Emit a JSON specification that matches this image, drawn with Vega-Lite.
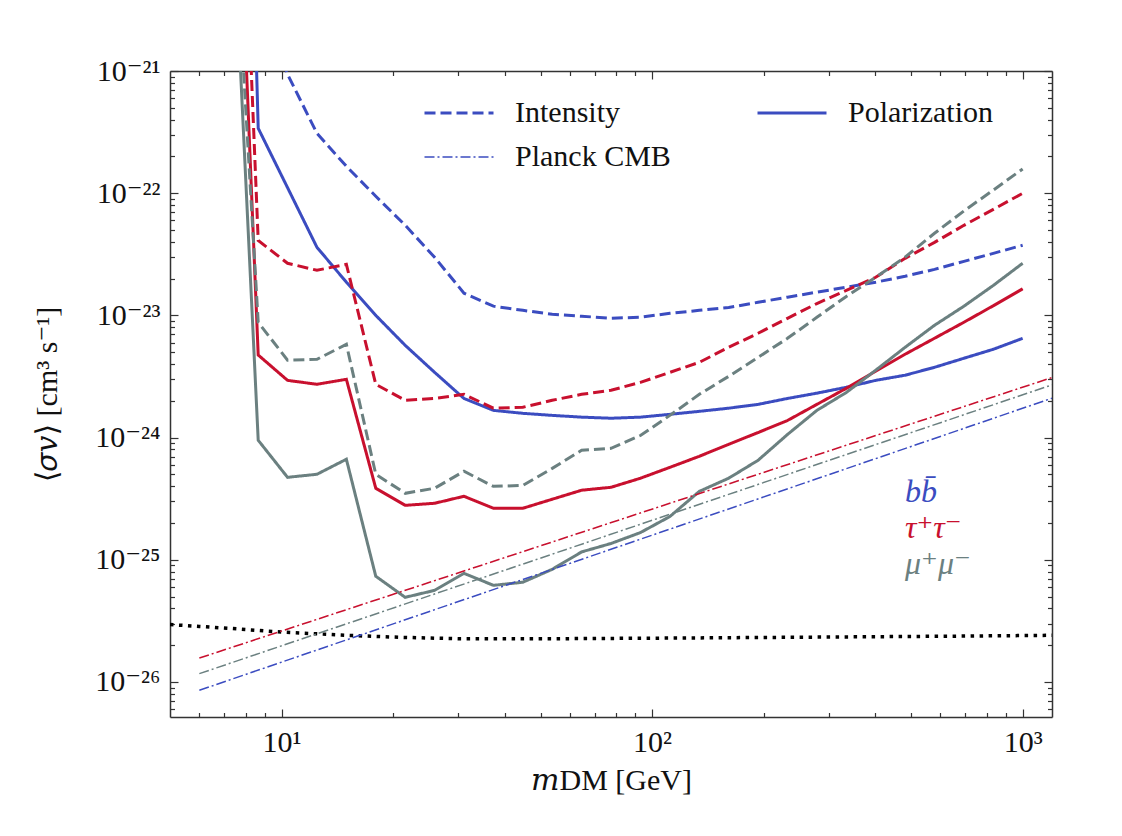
{
  "$schema": "https://vega.github.io/schema/vega-lite/v6.json",
  "width": 882,
  "height": 646,
  "autosize": "none",
  "padding": {"left": 170, "top": 71, "right": 70, "bottom": 119},
  "background": "white",
  "config": {
    "view": {"stroke": null},
    "axis": {
      "domainColor": "#333", "domainWidth": 1.5, "tickColor": "#333", "tickWidth": 1.2,
      "grid": false, "labelFont": "Liberation Serif, DejaVu Serif, serif", "labelFontSize": 30, "labelColor": "#111",
      "titleFont": "Liberation Serif, DejaVu Serif, serif", "titleFontSize": 30, "titleFontWeight": "normal", "titleColor": "#111",
      "labelOverlap": false, "labelFlush": false, "labelBound": false
    },
    "legend": {"padding": 0, "labelFont": "Liberation Serif, DejaVu Serif, serif", "labelColor": "#111", "labelLimit": 400}
  },
  "datasets": {
    "curves": [
      {"m": 8.65, "v": 5e-21, "c": "bb̄", "s": "Intensity"},
      {"m": 10.38, "v": 9.4e-22, "c": "bb̄", "s": "Intensity"},
      {"m": 12.46, "v": 3.09e-22, "c": "bb̄", "s": "Intensity"},
      {"m": 14.96, "v": 1.66e-22, "c": "bb̄", "s": "Intensity"},
      {"m": 17.96, "v": 9.44e-23, "c": "bb̄", "s": "Intensity"},
      {"m": 21.56, "v": 5.47e-23, "c": "bb̄", "s": "Intensity"},
      {"m": 25.88, "v": 2.99e-23, "c": "bb̄", "s": "Intensity"},
      {"m": 31.07, "v": 1.52e-23, "c": "bb̄", "s": "Intensity"},
      {"m": 37.30, "v": 1.19e-23, "c": "bb̄", "s": "Intensity"},
      {"m": 44.78, "v": 1.10e-23, "c": "bb̄", "s": "Intensity"},
      {"m": 53.76, "v": 1.02e-23, "c": "bb̄", "s": "Intensity"},
      {"m": 64.54, "v": 9.84e-24, "c": "bb̄", "s": "Intensity"},
      {"m": 77.48, "v": 9.48e-24, "c": "bb̄", "s": "Intensity"},
      {"m": 93.01, "v": 9.66e-24, "c": "bb̄", "s": "Intensity"},
      {"m": 111.7, "v": 1.04e-23, "c": "bb̄", "s": "Intensity"},
      {"m": 134.1, "v": 1.10e-23, "c": "bb̄", "s": "Intensity"},
      {"m": 160.9, "v": 1.16e-23, "c": "bb̄", "s": "Intensity"},
      {"m": 193.2, "v": 1.28e-23, "c": "bb̄", "s": "Intensity"},
      {"m": 231.9, "v": 1.41e-23, "c": "bb̄", "s": "Intensity"},
      {"m": 278.4, "v": 1.55e-23, "c": "bb̄", "s": "Intensity"},
      {"m": 334.3, "v": 1.70e-23, "c": "bb̄", "s": "Intensity"},
      {"m": 401.3, "v": 1.87e-23, "c": "bb̄", "s": "Intensity"},
      {"m": 481.7, "v": 2.09e-23, "c": "bb̄", "s": "Intensity"},
      {"m": 578.3, "v": 2.38e-23, "c": "bb̄", "s": "Intensity"},
      {"m": 694.3, "v": 2.77e-23, "c": "bb̄", "s": "Intensity"},
      {"m": 833.5, "v": 3.22e-23, "c": "bb̄", "s": "Intensity"},
      {"m": 1000, "v": 3.75e-23, "c": "bb̄", "s": "Intensity"},

      {"m": 7.2, "v": 1.5e-13, "c": "bb̄", "s": "Polarization"},
      {"m": 8.65, "v": 3.40e-22, "c": "bb̄", "s": "Polarization"},
      {"m": 10.38, "v": 1.11e-22, "c": "bb̄", "s": "Polarization"},
      {"m": 12.46, "v": 3.61e-23, "c": "bb̄", "s": "Polarization"},
      {"m": 14.96, "v": 1.87e-23, "c": "bb̄", "s": "Polarization"},
      {"m": 17.96, "v": 1.0e-23, "c": "bb̄", "s": "Polarization"},
      {"m": 21.56, "v": 5.69e-24, "c": "bb̄", "s": "Polarization"},
      {"m": 25.88, "v": 3.42e-24, "c": "bb̄", "s": "Polarization"},
      {"m": 31.07, "v": 2.09e-24, "c": "bb̄", "s": "Polarization"},
      {"m": 37.30, "v": 1.67e-24, "c": "bb̄", "s": "Polarization"},
      {"m": 44.78, "v": 1.58e-24, "c": "bb̄", "s": "Polarization"},
      {"m": 53.76, "v": 1.52e-24, "c": "bb̄", "s": "Polarization"},
      {"m": 64.54, "v": 1.47e-24, "c": "bb̄", "s": "Polarization"},
      {"m": 77.48, "v": 1.44e-24, "c": "bb̄", "s": "Polarization"},
      {"m": 93.01, "v": 1.47e-24, "c": "bb̄", "s": "Polarization"},
      {"m": 111.7, "v": 1.55e-24, "c": "bb̄", "s": "Polarization"},
      {"m": 134.1, "v": 1.64e-24, "c": "bb̄", "s": "Polarization"},
      {"m": 160.9, "v": 1.74e-24, "c": "bb̄", "s": "Polarization"},
      {"m": 193.2, "v": 1.87e-24, "c": "bb̄", "s": "Polarization"},
      {"m": 231.9, "v": 2.09e-24, "c": "bb̄", "s": "Polarization"},
      {"m": 278.4, "v": 2.31e-24, "c": "bb̄", "s": "Polarization"},
      {"m": 334.3, "v": 2.58e-24, "c": "bb̄", "s": "Polarization"},
      {"m": 401.3, "v": 2.94e-24, "c": "bb̄", "s": "Polarization"},
      {"m": 481.7, "v": 3.24e-24, "c": "bb̄", "s": "Polarization"},
      {"m": 578.3, "v": 3.76e-24, "c": "bb̄", "s": "Polarization"},
      {"m": 694.3, "v": 4.46e-24, "c": "bb̄", "s": "Polarization"},
      {"m": 833.5, "v": 5.28e-24, "c": "bb̄", "s": "Polarization"},
      {"m": 1000, "v": 6.49e-24, "c": "bb̄", "s": "Polarization"},

      {"m": 7.2, "v": 3.2e-17, "c": "τ⁺τ⁻", "s": "Intensity"},
      {"m": 8.65, "v": 4.10e-23, "c": "τ⁺τ⁻", "s": "Intensity"},
      {"m": 10.38, "v": 2.67e-23, "c": "τ⁺τ⁻", "s": "Intensity"},
      {"m": 12.46, "v": 2.34e-23, "c": "τ⁺τ⁻", "s": "Intensity"},
      {"m": 14.96, "v": 2.62e-23, "c": "τ⁺τ⁻", "s": "Intensity"},
      {"m": 17.96, "v": 2.73e-24, "c": "τ⁺τ⁻", "s": "Intensity"},
      {"m": 21.56, "v": 2.02e-24, "c": "τ⁺τ⁻", "s": "Intensity"},
      {"m": 25.88, "v": 2.09e-24, "c": "τ⁺τ⁻", "s": "Intensity"},
      {"m": 31.07, "v": 2.26e-24, "c": "τ⁺τ⁻", "s": "Intensity"},
      {"m": 37.30, "v": 1.74e-24, "c": "τ⁺τ⁻", "s": "Intensity"},
      {"m": 44.78, "v": 1.77e-24, "c": "τ⁺τ⁻", "s": "Intensity"},
      {"m": 53.76, "v": 2.02e-24, "c": "τ⁺τ⁻", "s": "Intensity"},
      {"m": 64.54, "v": 2.26e-24, "c": "τ⁺τ⁻", "s": "Intensity"},
      {"m": 77.48, "v": 2.44e-24, "c": "τ⁺τ⁻", "s": "Intensity"},
      {"m": 93.01, "v": 2.83e-24, "c": "τ⁺τ⁻", "s": "Intensity"},
      {"m": 111.7, "v": 3.42e-24, "c": "τ⁺τ⁻", "s": "Intensity"},
      {"m": 134.1, "v": 4.13e-24, "c": "τ⁺τ⁻", "s": "Intensity"},
      {"m": 160.9, "v": 5.48e-24, "c": "τ⁺τ⁻", "s": "Intensity"},
      {"m": 193.2, "v": 7.14e-24, "c": "τ⁺τ⁻", "s": "Intensity"},
      {"m": 231.9, "v": 9.46e-24, "c": "τ⁺τ⁻", "s": "Intensity"},
      {"m": 278.4, "v": 1.25e-23, "c": "τ⁺τ⁻", "s": "Intensity"},
      {"m": 334.3, "v": 1.60e-23, "c": "τ⁺τ⁻", "s": "Intensity"},
      {"m": 401.3, "v": 2.05e-23, "c": "τ⁺τ⁻", "s": "Intensity"},
      {"m": 481.7, "v": 2.93e-23, "c": "τ⁺τ⁻", "s": "Intensity"},
      {"m": 578.3, "v": 3.96e-23, "c": "τ⁺τ⁻", "s": "Intensity"},
      {"m": 694.3, "v": 5.46e-23, "c": "τ⁺τ⁻", "s": "Intensity"},
      {"m": 833.5, "v": 7.38e-23, "c": "τ⁺τ⁻", "s": "Intensity"},
      {"m": 1000, "v": 9.98e-23, "c": "τ⁺τ⁻", "s": "Intensity"},

      {"m": 7.2, "v": 3.6e-18, "c": "τ⁺τ⁻", "s": "Polarization"},
      {"m": 8.65, "v": 4.74e-24, "c": "τ⁺τ⁻", "s": "Polarization"},
      {"m": 10.38, "v": 2.94e-24, "c": "τ⁺τ⁻", "s": "Polarization"},
      {"m": 12.46, "v": 2.73e-24, "c": "τ⁺τ⁻", "s": "Polarization"},
      {"m": 14.96, "v": 3.00e-24, "c": "τ⁺τ⁻", "s": "Polarization"},
      {"m": 17.96, "v": 3.85e-25, "c": "τ⁺τ⁻", "s": "Polarization"},
      {"m": 21.56, "v": 2.79e-25, "c": "τ⁺τ⁻", "s": "Polarization"},
      {"m": 25.88, "v": 2.90e-25, "c": "τ⁺τ⁻", "s": "Polarization"},
      {"m": 31.07, "v": 3.31e-25, "c": "τ⁺τ⁻", "s": "Polarization"},
      {"m": 37.30, "v": 2.64e-25, "c": "τ⁺τ⁻", "s": "Polarization"},
      {"m": 44.78, "v": 2.64e-25, "c": "τ⁺τ⁻", "s": "Polarization"},
      {"m": 53.76, "v": 3.13e-25, "c": "τ⁺τ⁻", "s": "Polarization"},
      {"m": 64.54, "v": 3.71e-25, "c": "τ⁺τ⁻", "s": "Polarization"},
      {"m": 77.48, "v": 3.92e-25, "c": "τ⁺τ⁻", "s": "Polarization"},
      {"m": 93.01, "v": 4.65e-25, "c": "τ⁺τ⁻", "s": "Polarization"},
      {"m": 111.7, "v": 5.71e-25, "c": "τ⁺τ⁻", "s": "Polarization"},
      {"m": 134.1, "v": 7.03e-25, "c": "τ⁺τ⁻", "s": "Polarization"},
      {"m": 160.9, "v": 8.81e-25, "c": "τ⁺τ⁻", "s": "Polarization"},
      {"m": 193.2, "v": 1.10e-24, "c": "τ⁺τ⁻", "s": "Polarization"},
      {"m": 231.9, "v": 1.38e-24, "c": "τ⁺τ⁻", "s": "Polarization"},
      {"m": 278.4, "v": 1.87e-24, "c": "τ⁺τ⁻", "s": "Polarization"},
      {"m": 334.3, "v": 2.53e-24, "c": "τ⁺τ⁻", "s": "Polarization"},
      {"m": 401.3, "v": 3.49e-24, "c": "τ⁺τ⁻", "s": "Polarization"},
      {"m": 481.7, "v": 4.81e-24, "c": "τ⁺τ⁻", "s": "Polarization"},
      {"m": 578.3, "v": 6.50e-24, "c": "τ⁺τ⁻", "s": "Polarization"},
      {"m": 694.3, "v": 8.79e-24, "c": "τ⁺τ⁻", "s": "Polarization"},
      {"m": 833.5, "v": 1.20e-23, "c": "τ⁺τ⁻", "s": "Polarization"},
      {"m": 1000, "v": 1.65e-23, "c": "τ⁺τ⁻", "s": "Polarization"},

      {"m": 7.2, "v": 1.2e-19, "c": "μ⁺μ⁻", "s": "Intensity"},
      {"m": 8.65, "v": 8.77e-24, "c": "μ⁺μ⁻", "s": "Intensity"},
      {"m": 10.38, "v": 4.30e-24, "c": "μ⁺μ⁻", "s": "Intensity"},
      {"m": 12.46, "v": 4.37e-24, "c": "μ⁺μ⁻", "s": "Intensity"},
      {"m": 14.96, "v": 5.80e-24, "c": "μ⁺μ⁻", "s": "Intensity"},
      {"m": 17.96, "v": 5.01e-25, "c": "μ⁺μ⁻", "s": "Intensity"},
      {"m": 21.56, "v": 3.50e-25, "c": "μ⁺μ⁻", "s": "Intensity"},
      {"m": 25.88, "v": 3.85e-25, "c": "μ⁺μ⁻", "s": "Intensity"},
      {"m": 31.07, "v": 5.30e-25, "c": "μ⁺μ⁻", "s": "Intensity"},
      {"m": 37.30, "v": 3.99e-25, "c": "μ⁺μ⁻", "s": "Intensity"},
      {"m": 44.78, "v": 4.06e-25, "c": "μ⁺μ⁻", "s": "Intensity"},
      {"m": 53.76, "v": 5.60e-25, "c": "μ⁺μ⁻", "s": "Intensity"},
      {"m": 64.54, "v": 7.87e-25, "c": "μ⁺μ⁻", "s": "Intensity"},
      {"m": 77.48, "v": 8.17e-25, "c": "μ⁺μ⁻", "s": "Intensity"},
      {"m": 93.01, "v": 1.04e-24, "c": "μ⁺μ⁻", "s": "Intensity"},
      {"m": 111.7, "v": 1.52e-24, "c": "μ⁺μ⁻", "s": "Intensity"},
      {"m": 134.1, "v": 2.26e-24, "c": "μ⁺μ⁻", "s": "Intensity"},
      {"m": 160.9, "v": 3.17e-24, "c": "μ⁺μ⁻", "s": "Intensity"},
      {"m": 193.2, "v": 4.53e-24, "c": "μ⁺μ⁻", "s": "Intensity"},
      {"m": 231.9, "v": 6.49e-24, "c": "μ⁺μ⁻", "s": "Intensity"},
      {"m": 278.4, "v": 9.64e-24, "c": "μ⁺μ⁻", "s": "Intensity"},
      {"m": 334.3, "v": 1.43e-23, "c": "μ⁺μ⁻", "s": "Intensity"},
      {"m": 401.3, "v": 2.05e-23, "c": "μ⁺μ⁻", "s": "Intensity"},
      {"m": 481.7, "v": 3.0e-23, "c": "μ⁺μ⁻", "s": "Intensity"},
      {"m": 578.3, "v": 4.70e-23, "c": "μ⁺μ⁻", "s": "Intensity"},
      {"m": 694.3, "v": 7.16e-23, "c": "μ⁺μ⁻", "s": "Intensity"},
      {"m": 833.5, "v": 1.06e-22, "c": "μ⁺μ⁻", "s": "Intensity"},
      {"m": 1000, "v": 1.58e-22, "c": "μ⁺μ⁻", "s": "Intensity"},

      {"m": 7.2, "v": 1.07e-19, "c": "μ⁺μ⁻", "s": "Polarization"},
      {"m": 8.65, "v": 9.51e-25, "c": "μ⁺μ⁻", "s": "Polarization"},
      {"m": 10.38, "v": 4.73e-25, "c": "μ⁺μ⁻", "s": "Polarization"},
      {"m": 12.46, "v": 5.01e-25, "c": "μ⁺μ⁻", "s": "Polarization"},
      {"m": 14.96, "v": 6.65e-25, "c": "μ⁺μ⁻", "s": "Polarization"},
      {"m": 17.96, "v": 7.33e-26, "c": "μ⁺μ⁻", "s": "Polarization"},
      {"m": 21.56, "v": 4.93e-26, "c": "μ⁺μ⁻", "s": "Polarization"},
      {"m": 25.88, "v": 5.62e-26, "c": "μ⁺μ⁻", "s": "Polarization"},
      {"m": 31.07, "v": 7.74e-26, "c": "μ⁺μ⁻", "s": "Polarization"},
      {"m": 37.30, "v": 6.18e-26, "c": "μ⁺μ⁻", "s": "Polarization"},
      {"m": 44.78, "v": 6.55e-26, "c": "μ⁺μ⁻", "s": "Polarization"},
      {"m": 53.76, "v": 8.36e-26, "c": "μ⁺μ⁻", "s": "Polarization"},
      {"m": 64.54, "v": 1.16e-25, "c": "μ⁺μ⁻", "s": "Polarization"},
      {"m": 77.48, "v": 1.36e-25, "c": "μ⁺μ⁻", "s": "Polarization"},
      {"m": 93.01, "v": 1.67e-25, "c": "μ⁺μ⁻", "s": "Polarization"},
      {"m": 111.7, "v": 2.26e-25, "c": "μ⁺μ⁻", "s": "Polarization"},
      {"m": 134.1, "v": 3.63e-25, "c": "μ⁺μ⁻", "s": "Polarization"},
      {"m": 160.9, "v": 4.65e-25, "c": "μ⁺μ⁻", "s": "Polarization"},
      {"m": 193.2, "v": 6.52e-25, "c": "μ⁺μ⁻", "s": "Polarization"},
      {"m": 231.9, "v": 1.06e-24, "c": "μ⁺μ⁻", "s": "Polarization"},
      {"m": 278.4, "v": 1.67e-24, "c": "μ⁺μ⁻", "s": "Polarization"},
      {"m": 334.3, "v": 2.34e-24, "c": "μ⁺μ⁻", "s": "Polarization"},
      {"m": 401.3, "v": 3.56e-24, "c": "μ⁺μ⁻", "s": "Polarization"},
      {"m": 481.7, "v": 5.48e-24, "c": "μ⁺μ⁻", "s": "Polarization"},
      {"m": 578.3, "v": 8.30e-24, "c": "μ⁺μ⁻", "s": "Polarization"},
      {"m": 694.3, "v": 1.19e-23, "c": "μ⁺μ⁻", "s": "Polarization"},
      {"m": 833.5, "v": 1.76e-23, "c": "μ⁺μ⁻", "s": "Polarization"},
      {"m": 1000, "v": 2.67e-23, "c": "μ⁺μ⁻", "s": "Polarization"},

      {"m": 6, "v": 8.55e-27, "c": "bb̄", "s": "Planck CMB"},
      {"m": 1200, "v": 2.10e-24, "c": "bb̄", "s": "Planck CMB"},
      {"m": 6, "v": 1.57e-26, "c": "τ⁺τ⁻", "s": "Planck CMB"},
      {"m": 1200, "v": 3.10e-24, "c": "τ⁺τ⁻", "s": "Planck CMB"},
      {"m": 6, "v": 1.17e-26, "c": "μ⁺μ⁻", "s": "Planck CMB"},
      {"m": 1200, "v": 2.70e-24, "c": "μ⁺μ⁻", "s": "Planck CMB"}
    ],
    "relic": [
      {"m": 5, "v": 2.95e-26},
      {"m": 6, "v": 2.85e-26},
      {"m": 7.2, "v": 2.75e-26},
      {"m": 10, "v": 2.56e-26},
      {"m": 15, "v": 2.41e-26},
      {"m": 21, "v": 2.32e-26},
      {"m": 30, "v": 2.26e-26},
      {"m": 55, "v": 2.26e-26},
      {"m": 120, "v": 2.29e-26},
      {"m": 280, "v": 2.33e-26},
      {"m": 640, "v": 2.37e-26},
      {"m": 1200, "v": 2.41e-26}
    ]
  },
  "layer": [
    {
      "data": {"name": "relic"},
      "mark": {"type": "line", "clip": true, "color": "black", "strokeDash": [3.5, 5.5], "strokeWidth": 3.5},
      "encoding": {
        "x": {"field": "m", "type": "quantitative",
          "scale": {"type": "log", "domain": [5, 1200], "nice": false},
          "axis": {
            "orient": "bottom",
            "values": [6,7,8,9,10,20,30,40,50,60,70,80,90,100,200,300,400,500,600,700,800,900,1000],
            "labelExpr": "datum.value == 10 ? '10¹' : datum.value == 100 ? '10²' : datum.value == 1000 ? '10³' : ''",
            "tickSize": {"condition": {"test": "datum.value == 10 || datum.value == 100 || datum.value == 1000", "value": -8}, "value": -4.5},
            "labelPadding": 18,
            "labelBaseline": "top",
            "title": "𝑚DM [GeV]",
            "titleY": 72,
            "titleBaseline": "alphabetic"
          }
        },
        "y": {"field": "v", "type": "quantitative",
          "scale": {"type": "log", "domain": [5.17e-27, 1e-21], "nice": false},
          "axis": {
            "orient": "left",
            "values": [6e-27,7e-27,8e-27,9e-27,1e-26,2e-26,3e-26,4e-26,5e-26,6e-26,7e-26,8e-26,9e-26,1e-25,2e-25,3e-25,4e-25,5e-25,6e-25,7e-25,8e-25,9e-25,1e-24,2e-24,3e-24,4e-24,5e-24,6e-24,7e-24,8e-24,9e-24,1e-23,2e-23,3e-23,4e-23,5e-23,6e-23,7e-23,8e-23,9e-23,1e-22,2e-22,3e-22,4e-22,5e-22,6e-22,7e-22,8e-22,9e-22,1e-21],
            "labelExpr": "datum.value == 1e-21 ? '10⁻²¹' : datum.value == 1e-22 ? '10⁻²²' : datum.value == 1e-23 ? '10⁻²³' : datum.value == 1e-24 ? '10⁻²⁴' : datum.value == 1e-25 ? '10⁻²⁵' : datum.value == 1e-26 ? '10⁻²⁶' : ''",
            "tickSize": {"condition": {"test": "abs(log(datum.value)/LN10 - round(log(datum.value)/LN10)) < 0.0001", "value": -8}, "value": -4.5},
            "labelPadding": 18,
            "labelBaseline": "middle",
            "title": "⟨𝜎𝑣⟩ [cm³ s⁻¹]",
            "titleX": -123,
            "titleBaseline": "middle"
          }
        }
      }
    },
    {
      "data": {"name": "curves"},
      "mark": {"type": "line", "clip": true},
      "encoding": {
        "x": {"field": "m", "type": "quantitative",
          "scale": {"type": "log", "domain": [5, 1200], "nice": false},
          "axis": {
            "orient": "top",
            "values": [6,7,8,9,10,20,30,40,50,60,70,80,90,100,200,300,400,500,600,700,800,900,1000],
            "labels": false, "title": null,
            "tickSize": {"condition": {"test": "datum.value == 10 || datum.value == 100 || datum.value == 1000", "value": -8}, "value": -4.5}
          }
        },
        "y": {"field": "v", "type": "quantitative",
          "scale": {"type": "log", "domain": [5.17e-27, 1e-21], "nice": false},
          "axis": {
            "orient": "right",
            "values": [6e-27,7e-27,8e-27,9e-27,1e-26,2e-26,3e-26,4e-26,5e-26,6e-26,7e-26,8e-26,9e-26,1e-25,2e-25,3e-25,4e-25,5e-25,6e-25,7e-25,8e-25,9e-25,1e-24,2e-24,3e-24,4e-24,5e-24,6e-24,7e-24,8e-24,9e-24,1e-23,2e-23,3e-23,4e-23,5e-23,6e-23,7e-23,8e-23,9e-23,1e-22,2e-22,3e-22,4e-22,5e-22,6e-22,7e-22,8e-22,9e-22,1e-21],
            "labels": false, "title": null,
            "tickSize": {"condition": {"test": "abs(log(datum.value)/LN10 - round(log(datum.value)/LN10)) < 0.0001", "value": -8}, "value": -4.5}
          }
        },
        "color": {"field": "c", "type": "nominal",
          "scale": {"domain": ["bb̄", "τ⁺τ⁻", "μ⁺μ⁻"], "range": ["#3b4cc0", "#c8102e", "#6b8080"]},
          "legend": {
            "orient": "none", "legendX": 703, "legendY": 405, "title": null,
            "symbolSize": 0, "symbolOpacity": 0, "labelOffset": 0,
            "labelFontSize": 32, "labelFontStyle": "italic", "rowPadding": 4,
            "encode": {"labels": {"update": {"fill": {"signal": "scale('color', datum.value)"}}}}
          }
        },
        "strokeDash": {"field": "s", "type": "nominal",
          "scale": {"type": "ordinal", "domain": ["Intensity", "Planck CMB", "Polarization"], "range": [[11, 5], [10, 3, 2, 3], [1, 0]]},
          "legend": {
            "orient": "none", "legendX": 274, "legendY": 27, "title": null, "columns": 2,
            "symbolType": "M-3.45,0H3.45", "symbolSize": 400, "symbolStrokeColor": "#3b4cc0",
            "labelFontSize": 30, "labelOffset": 41, "columnPadding": 80, "rowPadding": 14,
            "encode": {"symbols": {"update": {
              "strokeWidth": {"signal": "datum.value === 'Planck CMB' ? 1.5 : 5"},
              "strokeDash": {"signal": "datum.value === 'Intensity' ? [17, 8] : datum.value === 'Planck CMB' ? [9, 3, 2, 3] : [1, 0]"}
            }}}
          }
        },
        "strokeWidth": {"field": "s", "type": "nominal",
          "scale": {"type": "ordinal", "domain": ["Intensity", "Planck CMB", "Polarization"], "range": [3, 1.5, 3]},
          "legend": {
            "orient": "none", "legendX": 274, "legendY": 27, "title": null, "columns": 2,
            "symbolType": "M-3.45,0H3.45", "symbolSize": 400, "symbolStrokeColor": "#3b4cc0",
            "labelFontSize": 30, "labelOffset": 41, "columnPadding": 80, "rowPadding": 14,
            "encode": {"symbols": {"update": {
              "strokeWidth": {"signal": "datum.value === 'Planck CMB' ? 1.5 : 5"},
              "strokeDash": {"signal": "datum.value === 'Intensity' ? [17, 8] : datum.value === 'Planck CMB' ? [9, 3, 2, 3] : [1, 0]"}
            }}}
          }
        }
      }
    }
  ],
  "resolve": {"axis": {"x": "independent", "y": "independent"}}
}
